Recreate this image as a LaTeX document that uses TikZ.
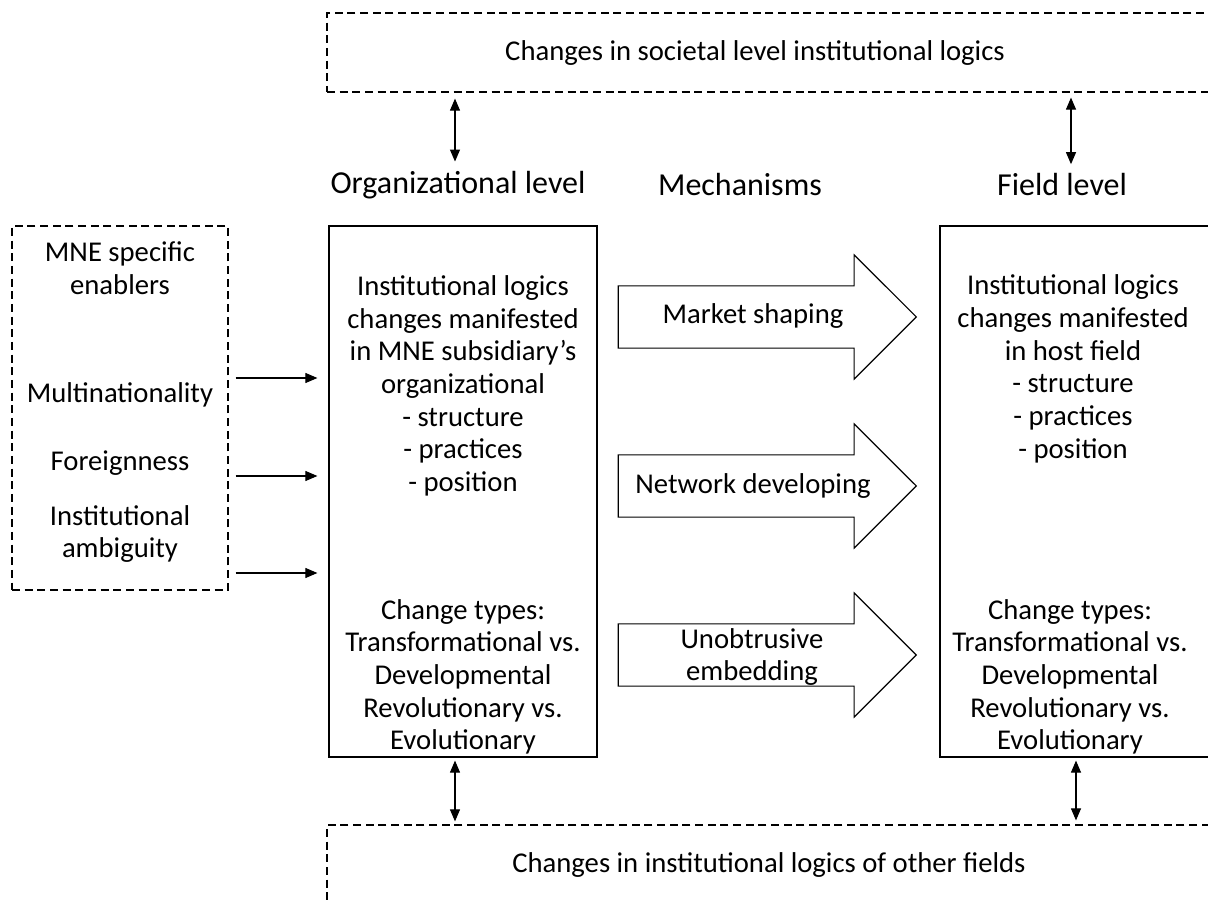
\documentclass[tikz,border=0pt]{standalone}
\usepackage{fontspec}
\setmainfont{Carlito}
\usetikzlibrary{arrows.meta, positioning, shapes.arrows}

\begin{document}
\begin{tikzpicture}[x=0.75pt, y=-0.75pt]
\tikzstyle{dashbox}=[rectangle, draw=black, dash pattern=on 6pt off 3.5pt, line width=0.9pt]
\tikzstyle{box}=[rectangle, draw=black, line width=0.9pt]
\tikzstyle{txt}=[align=center, font=\fontsize{21.5}{24.5}\selectfont, inner sep=0pt]
\tikzstyle{head}=[font=\fontsize{24}{28}\selectfont, inner sep=0pt]
\tikzstyle{connect}=[-{Triangle[length=9pt, width=7.5pt]}, line width=0.8pt]
\tikzstyle{both}=[{Triangle[length=9pt, width=7.5pt]}-{Triangle[length=9pt, width=7.5pt]}, line width=0.8pt]
\tikzstyle{mech}=[single arrow, draw=black, line width=0.8pt, inner sep=0pt, inner ysep=22.9pt, minimum height=223.5pt, single arrow head extend=23.25pt, anchor=tip]
    \useasboundingbox (0,0) rectangle (1208,905);
    \clip (0,0) rectangle (1208,905);

    % outer levels
    \node[dashbox, minimum width=669.75pt, minimum height=59.25pt] (societal) at (773.5,52.5) { };
    \node[txt] (societaltxt) at (755,53) {Changes in societal level institutional logics};
    \node[dashbox, minimum width=669.75pt, minimum height=82.5pt] (others) at (773.5,880) { };
    \node[txt] (otherstxt) at (769,865) {Changes in institutional logics of other fields};

    % headings
    \node[head] (orglvl) at (458,185) {Organizational level};
    \node[head] (mechs) at (740,185) {Mechanisms};
    \node[head] (fieldlvl) at (1062,185) {Field level};

    % enablers
    \node[dashbox, minimum width=162pt, minimum height=273pt] (enablers) at (120,408) { };
    \node[txt] (mne) at (120,268) {MNE specific\\enablers};
    \node[txt] (multi) at (120,395) {Multinationality};
    \node[txt] (foreign) at (120,463) {Foreignness};
    \node[txt] (ambig) at (120,534) {Institutional\\ambiguity};

    % organizational level
    \node[box, minimum width=201pt, minimum height=398.25pt] (orgbox) at (463,491.5) { };
    \node[txt] (orgtop) at (463,386) {Institutional logics\\changes manifested\\in MNE subsidiary’s\\organizational\\- structure\\- practices\\- position};
    \node[txt] (orgtypes) at (463,677) {Change types:\\Transformational vs.\\Developmental\\Revolutionary vs.\\Evolutionary};

    % field level
    \node[box, minimum width=204pt, minimum height=398.25pt] (fieldbox) at (1076,491.5) { };
    \node[txt] (fieldtop) at (1073,369) {Institutional logics\\changes manifested\\in host field\\- structure\\- practices\\- position};
    \node[txt] (fieldtypes) at (1070,677) {Change types:\\Transformational vs.\\Developmental\\Revolutionary vs.\\Evolutionary};

    % mechanisms
    \node[mech] (shaping) at (917,317) { };
    \node[mech] (network) at (917,486) { };
    \node[mech] (embedding) at (917,655) { };
    \node[txt] (shapingtxt) at (753,316) {Market shaping};
    \node[txt] (networktxt) at (753,486) {Network developing};
    \node[txt] (embeddingtxt) at (752,657) {Unobtrusive\\embedding};

    % connectors
    \coordinate (ol) at (455,0);
    \coordinate (fl) at (1071,0);
    \coordinate (bl) at (455,0);
    \coordinate (br) at (1076,0);
    \draw[both] ([yshift=-4.5pt]societal.south -| ol) -- ([yshift=7pt]orglvl.north -| ol);
    \draw[both] ([yshift=-3.75pt]societal.south -| fl) -- ([yshift=7pt]fieldlvl.north -| fl);
    \draw[both] ([yshift=-2.25pt]orgbox.south -| bl) -- ([yshift=2.25pt]others.north -| bl);
    \draw[both] ([yshift=-2.25pt]fieldbox.south -| br) -- ([yshift=3pt]others.north -| br);
    \foreach \y [count=\i] in {378,476,573} {
        \coordinate (r\i) at (0,\y);
        \draw[connect] ([xshift=5.25pt]enablers.east |- r\i) -- ([xshift=-8.25pt]orgbox.west |- r\i);
    }
\end{tikzpicture}
\end{document}
